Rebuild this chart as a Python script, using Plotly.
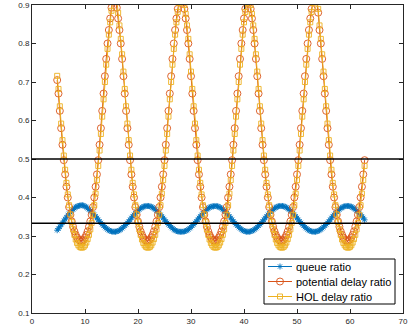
import plotly.graph_objects as go

# sampling grid (time axis)
x_start = 4.75
x_step = 0.25

queue_ratio = [
    0.315, 0.319, 0.324, 0.329, 0.334, 0.339, 0.344, 0.349, 0.354, 0.358, 0.362, 0.366, 0.369, 0.372, 0.375, 0.377, 0.378, 0.379, 0.380,
    0.380, 0.379, 0.377, 0.375, 0.372, 0.369, 0.366, 0.362, 0.358, 0.355, 0.351, 0.347, 0.342, 0.338, 0.334, 0.330, 0.327, 0.323, 0.320, 0.317, 0.315, 0.313, 0.312, 0.311, 0.311,
    0.311, 0.312, 0.313, 0.315, 0.317, 0.320, 0.323, 0.327, 0.330, 0.334, 0.338, 0.342, 0.347, 0.351, 0.355, 0.359, 0.363, 0.366, 0.369, 0.372, 0.374, 0.376, 0.377, 0.378, 0.378,
    0.378, 0.377, 0.376, 0.374, 0.372, 0.369, 0.366, 0.363, 0.359, 0.355, 0.351, 0.347, 0.342, 0.338, 0.334, 0.330, 0.327, 0.323, 0.320, 0.317, 0.315, 0.313, 0.312, 0.311, 0.311,
    0.311, 0.311, 0.312, 0.313, 0.315, 0.317, 0.320, 0.323, 0.327, 0.330, 0.334, 0.338, 0.342, 0.347, 0.351, 0.355, 0.359, 0.363, 0.366, 0.369, 0.372, 0.374, 0.376, 0.377, 0.377, 0.378,
    0.378, 0.377, 0.376, 0.374, 0.372, 0.369, 0.366, 0.363, 0.359, 0.355, 0.351, 0.347, 0.342, 0.338, 0.334, 0.330, 0.327, 0.323, 0.320, 0.317, 0.315, 0.313, 0.312, 0.311, 0.311,
    0.311, 0.312, 0.313, 0.315, 0.317, 0.320, 0.323, 0.327, 0.330, 0.334, 0.338, 0.342, 0.347, 0.351, 0.355, 0.359, 0.363, 0.366, 0.369, 0.372, 0.374, 0.376, 0.377, 0.378, 0.378,
    0.378, 0.377, 0.376, 0.374, 0.372, 0.369, 0.366, 0.363, 0.359, 0.355, 0.351, 0.347, 0.342, 0.338, 0.334, 0.330, 0.327, 0.323, 0.320, 0.317, 0.315, 0.313, 0.312, 0.311, 0.311, 0.311,
    0.312, 0.313, 0.315, 0.317, 0.320, 0.323, 0.327, 0.330, 0.334, 0.338, 0.342, 0.347, 0.351, 0.355, 0.359, 0.363, 0.366, 0.369, 0.372, 0.374, 0.376, 0.377, 0.378, 0.378,
    0.378, 0.377, 0.376, 0.374, 0.372, 0.369, 0.366, 0.363, 0.359, 0.355, 0.351, 0.347, 0.342,
]

potential_delay_ratio = [
    0.705, 0.670, 0.625, 0.580, 0.537, 0.497, 0.460, 0.428, 0.400, 0.375, 0.355, 0.338, 0.324, 0.312, 0.303, 0.296, 0.291, 0.288, 0.287,
    0.288, 0.291, 0.296, 0.303, 0.312, 0.324, 0.338, 0.355, 0.375, 0.400, 0.428, 0.460, 0.497, 0.537, 0.580, 0.625, 0.670, 0.715, 0.760, 0.800, 0.835, 0.865, 0.893, 0.918, 0.940,
    0.918, 0.893, 0.865, 0.835, 0.800, 0.760, 0.715, 0.670, 0.625, 0.580, 0.537, 0.497, 0.460, 0.428, 0.400, 0.375, 0.355, 0.338, 0.324, 0.312, 0.303, 0.296, 0.291, 0.288, 0.287,
    0.288, 0.291, 0.296, 0.303, 0.312, 0.324, 0.338, 0.355, 0.375, 0.400, 0.428, 0.460, 0.497, 0.537, 0.580, 0.625, 0.670, 0.715, 0.760, 0.800, 0.835, 0.865, 0.890, 0.910, 0.925,
    0.925, 0.910, 0.890, 0.865, 0.835, 0.800, 0.760, 0.715, 0.670, 0.625, 0.580, 0.537, 0.497, 0.460, 0.428, 0.400, 0.375, 0.355, 0.338, 0.324, 0.312, 0.303, 0.296, 0.291, 0.288, 0.287,
    0.288, 0.291, 0.296, 0.303, 0.312, 0.324, 0.338, 0.355, 0.375, 0.400, 0.428, 0.460, 0.497, 0.537, 0.580, 0.625, 0.670, 0.715, 0.760, 0.800, 0.835, 0.865, 0.890, 0.910, 0.925,
    0.910, 0.890, 0.865, 0.835, 0.800, 0.760, 0.715, 0.670, 0.625, 0.580, 0.537, 0.497, 0.460, 0.428, 0.400, 0.375, 0.355, 0.338, 0.324, 0.312, 0.303, 0.296, 0.291, 0.288, 0.287,
    0.288, 0.291, 0.296, 0.303, 0.312, 0.324, 0.338, 0.355, 0.375, 0.400, 0.428, 0.460, 0.497, 0.537, 0.580, 0.625, 0.670, 0.715, 0.760, 0.800, 0.835, 0.865, 0.890, 0.910, 0.925, 0.930,
    0.910, 0.880, 0.835, 0.800, 0.760, 0.715, 0.670, 0.625, 0.580, 0.537, 0.497, 0.460, 0.428, 0.400, 0.375, 0.355, 0.338, 0.324, 0.312, 0.303, 0.296, 0.291, 0.288, 0.287,
    0.288, 0.291, 0.296, 0.303, 0.312, 0.324, 0.338, 0.355, 0.375, 0.400, 0.428, 0.460, 0.497,
]

hol_delay_ratio = [
    0.716, 0.682, 0.637, 0.592, 0.549, 0.509, 0.472, 0.438, 0.408, 0.380, 0.356, 0.336, 0.318, 0.303, 0.291, 0.282, 0.276, 0.272, 0.270,
    0.270, 0.272, 0.276, 0.283, 0.292, 0.303, 0.317, 0.334, 0.355, 0.380, 0.410, 0.445, 0.482, 0.522, 0.565, 0.610, 0.655, 0.700, 0.745, 0.786, 0.823, 0.855, 0.885, 0.912, 0.935,
    0.935, 0.915, 0.880, 0.847, 0.812, 0.772, 0.727, 0.682, 0.637, 0.592, 0.549, 0.509, 0.472, 0.438, 0.408, 0.380, 0.356, 0.336, 0.318, 0.303, 0.291, 0.282, 0.276, 0.272, 0.270,
    0.270, 0.272, 0.276, 0.283, 0.292, 0.303, 0.317, 0.334, 0.355, 0.380, 0.410, 0.445, 0.482, 0.522, 0.565, 0.610, 0.655, 0.700, 0.745, 0.786, 0.823, 0.855, 0.882, 0.905, 0.920,
    0.930, 0.920, 0.900, 0.877, 0.847, 0.812, 0.772, 0.727, 0.682, 0.637, 0.592, 0.549, 0.509, 0.472, 0.438, 0.408, 0.380, 0.356, 0.336, 0.318, 0.303, 0.291, 0.282, 0.276, 0.272, 0.270,
    0.270, 0.272, 0.276, 0.283, 0.292, 0.303, 0.317, 0.334, 0.355, 0.380, 0.410, 0.445, 0.482, 0.522, 0.565, 0.610, 0.655, 0.700, 0.745, 0.786, 0.823, 0.855, 0.882, 0.905, 0.920,
    0.920, 0.900, 0.877, 0.847, 0.812, 0.772, 0.727, 0.682, 0.637, 0.592, 0.549, 0.509, 0.472, 0.438, 0.408, 0.380, 0.356, 0.336, 0.318, 0.303, 0.291, 0.282, 0.276, 0.272, 0.270,
    0.270, 0.272, 0.276, 0.283, 0.292, 0.303, 0.317, 0.334, 0.355, 0.380, 0.410, 0.445, 0.482, 0.522, 0.565, 0.610, 0.655, 0.700, 0.745, 0.786, 0.823, 0.855, 0.882, 0.905, 0.920, 0.925,
    0.915, 0.890, 0.847, 0.812, 0.772, 0.727, 0.682, 0.637, 0.592, 0.549, 0.509, 0.472, 0.438, 0.408, 0.380, 0.356, 0.336, 0.318, 0.303, 0.291, 0.282, 0.276, 0.272, 0.270,
    0.270, 0.272, 0.276, 0.283, 0.292, 0.303, 0.317, 0.334, 0.355, 0.380, 0.410, 0.445, 0.482,
]

reference_lines = [0.5, 1 / 3]

series_names = ["queue ratio", "potential delay ratio", "HOL delay ratio"]

x_ticks = [0, 10, 20, 30, 40, 50, 60, 70]
x_tick_labels = ["0", "10", "20", "30", "40", "50", "60", "70"]
y_ticks = [0.1, 0.2, 0.3, 0.4, 0.5, 0.6, 0.7, 0.8, 0.9]
y_tick_labels = ["0.1", "0.2", "0.3", "0.4", "0.5", "0.6", "0.7", "0.8", "0.9"]

n = len(queue_ratio)
assert n == len(potential_delay_ratio) == len(hol_delay_ratio), (n, len(potential_delay_ratio), len(hol_delay_ratio))
x = [x_start + x_step * i for i in range(n)]

BLUE = "#0072BD"
ORANGE = "#D95319"
YELLOW = "#EDB120"
AXIS = "#262626"
FONT = "Liberation Sans, Arial, Helvetica, sans-serif"

W, H = 415, 330
ML, MR, MT, MB = 32, 12, 5, 17
PW, PH = W - ML - MR, H - MT - MB

styles = [
    dict(color=BLUE, symbol="asterisk-open", size=5),
    dict(color=ORANGE, symbol="circle-open", size=7),
    dict(color=YELLOW, symbol="square-open", size=5),
]
all_series = [queue_ratio, potential_delay_ratio, hol_delay_ratio]

fig = go.Figure()
for name, ys, st in zip(series_names, all_series, styles):
    fig.add_trace(go.Scatter(
        x=x, y=ys, name=name, mode="lines+markers", showlegend=False,
        line=dict(color=st["color"], width=1),
        marker=dict(symbol=st["symbol"], size=st["size"], color=st["color"],
                    line=dict(color=st["color"], width=0.9)),
        hoverinfo="x+y+name",
    ))

for yv in reference_lines:
    fig.add_hline(y=yv, line=dict(color="black", width=1.5))

# ---- custom legend drawn on an overlay axis measured in plot-area pixels ----
box_x0, box_x1, box_y0, box_y1 = 232, 363, 9, 54
item_y = [46.5, 31.5, 16.5]
line_x0, line_x1, text_x = 236, 260, 262

fig.add_trace(go.Scatter(
    x=[box_x0, box_x1, box_x1, box_x0, box_x0], y=[box_y0, box_y0, box_y1, box_y1, box_y0],
    xaxis="x2", yaxis="y2", mode="lines", fill="toself", fillcolor="white",
    line=dict(color="black", width=1), showlegend=False, hoverinfo="skip",
))
for name, st, yc in zip(series_names, styles, item_y):
    fig.add_trace(go.Scatter(
        x=[line_x0, line_x1], y=[yc, yc], xaxis="x2", yaxis="y2", mode="lines",
        line=dict(color=st["color"], width=1), showlegend=False, hoverinfo="skip",
    ))
    fig.add_trace(go.Scatter(
        x=[(line_x0 + line_x1) / 2], y=[yc], xaxis="x2", yaxis="y2", mode="markers",
        marker=dict(symbol=st["symbol"], size=st["size"], color=st["color"],
                    line=dict(color=st["color"], width=0.9)),
        showlegend=False, hoverinfo="skip",
    ))
    fig.add_annotation(
        x=text_x, y=yc, xref="x2", yref="y2", text=name, showarrow=False,
        xanchor="left", yanchor="middle",
        font=dict(family=FONT, size=11, color="black"),
    )

axis_common = dict(
    showline=True, linecolor=AXIS, linewidth=1, mirror="ticks",
    ticks="inside", ticklen=4, tickcolor=AXIS, tickwidth=1,
    showgrid=False, zeroline=False, automargin=False,
    tickfont=dict(family=FONT, size=8, color=AXIS),
)
fig.update_layout(
    xaxis=dict(range=[0, 70], tickvals=x_ticks, ticktext=x_tick_labels, **axis_common),
    yaxis=dict(range=[0.1, 0.9], tickvals=y_ticks, ticktext=y_tick_labels, **axis_common),
    xaxis2=dict(range=[0, PW], overlaying="x", visible=False, fixedrange=True),
    yaxis2=dict(range=[0, PH], overlaying="y", visible=False, fixedrange=True),
    width=W, height=H,
    margin=dict(l=ML, r=MR, t=MT, b=MB),
    plot_bgcolor="white", paper_bgcolor="white",
    font=dict(family=FONT, size=11, color="black"),
    showlegend=False,
)

# the page's default 8px body margin would shift the figure; remove it
fig.write_html(
    "out.html",
    config={"displayModeBar": False},
    post_script="document.body.style.margin='0px';",
)
